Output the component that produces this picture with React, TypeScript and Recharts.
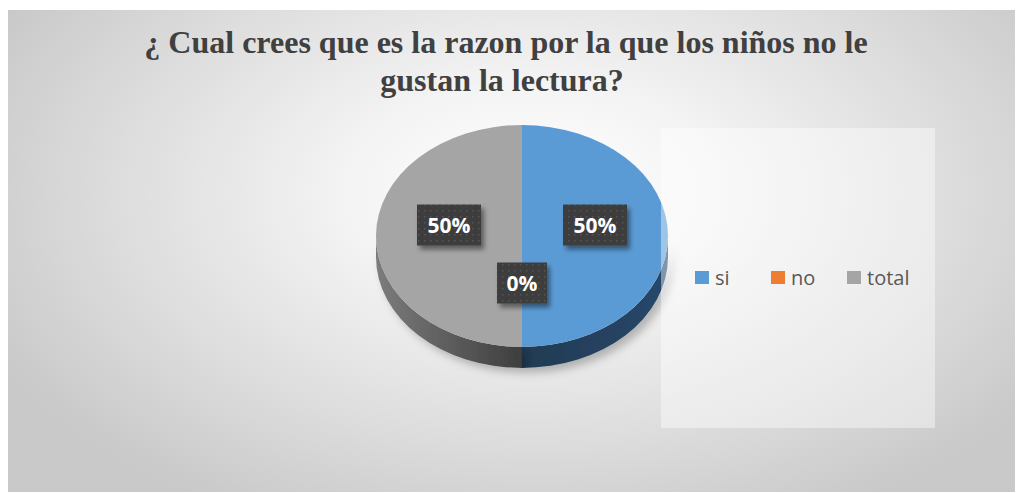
import React from 'react'
import { Legend, Pie, PieChart } from 'recharts'

const categories = ['si', 'no', 'total']
const values = [50, 0, 50]
const colors = ['#5B9BD5', '#ED7D31', '#A5A5A5']
const sideColors = ['url(#sideBlue)', '#8a4a1d', 'url(#sideGray)']
const title = ['¿ Cual crees que es la razon por la que los niños no le', 'gustan la lectura?']

const W = 1012
const H = 482
const RX = 146
const RY = 111
const DEPTH = 21

const rows = categories.map((name, i) => ({ name, value: values[i], fill: colors[i], side: sideColors[i] }))

const rad = (a: number) => (a * Math.PI) / 180

function pt(cx: number, cy: number, a: number, dy = 0) {
  return [cx + RX * Math.cos(rad(a)), cy - RY * Math.sin(rad(a)) + dy]
}

function Slice3D(props: any) {
  const { cx, cy, startAngle, endAngle, fill, payload } = props
  if (Math.abs(endAngle - startAngle) < 0.01) return <g />
  const lo = Math.min(startAngle, endAngle)
  const hi = Math.max(startAngle, endAngle)
  const [sx, sy] = pt(cx, cy, startAngle)
  const [ex, ey] = pt(cx, cy, endAngle)
  const large = hi - lo > 180 ? 1 : 0
  const sweep = startAngle > endAngle ? 1 : 0
  const top = `M${cx},${cy} L${sx},${sy} A${RX},${RY} 0 ${large} ${sweep} ${ex},${ey} Z`

  // side wall: only the front half (-180..0, modulo 360)
  const sides: string[] = []
  for (const k of [-360, 0, 360]) {
    const a1 = Math.max(lo, -180 + k)
    const a2 = Math.min(hi, 0 + k)
    if (a2 - a1 > 0.01) {
      const [x1, y1] = pt(cx, cy, a2)
      const [x2, y2] = pt(cx, cy, a1)
      const [x3, y3] = pt(cx, cy, a1, DEPTH)
      const [x4, y4] = pt(cx, cy, a2, DEPTH)
      const lg = a2 - a1 > 180 ? 1 : 0
      sides.push(
        `M${x1},${y1} A${RX},${RY} 0 ${lg} 1 ${x2},${y2} L${x3},${y3} A${RX},${RY} 0 ${lg} 0 ${x4},${y4} Z`
      )
    }
  }
  return (
    <g>
      <g filter="url(#pieShadow)">
        {sides.map((d, i) => (
          <path key={i} d={d} fill={payload.side} />
        ))}
      </g>
      <path d={top} fill={fill} />
    </g>
  )
}

function renderLabel(props: any) {
  const { cx, cy, midAngle, percent } = props
  const text = `${Math.round(percent * 100)}%`
  const x = cx + 73 * Math.cos(rad(midAngle))
  const y = cy - 58 * Math.sin(rad(midAngle)) - 11
  const w = 14 * text.length + 22
  const h = 41
  return (
    <g>
      <rect x={x - w / 2} y={y - h / 2} width={w} height={h} fill="url(#dots)" filter="url(#boxShadow)" />
      <text
        x={x}
        y={y + 7.5}
        textAnchor="middle"
        fill="#ffffff"
        fontFamily="Open Sans"
        fontWeight="bold"
        fontSize={21}
      >
        {text}
      </text>
    </g>
  )
}

function renderLegend(props: any) {
  const payload = [...(props.payload || [])].sort(
    (a: any, b: any) => categories.indexOf(a.value) - categories.indexOf(b.value)
  )
  return (
    <div style={{ display: 'flex', fontFamily: 'Open Sans', fontSize: 20, color: '#595959' }}>
      {payload.map((p: any) => (
        <div key={p.value} style={{ width: 76, display: 'flex', alignItems: 'center' }}>
          <span style={{ width: 14, height: 13, background: p.color, marginRight: 6, display: 'inline-block' }} />
          <span>{p.value}</span>
        </div>
      ))}
    </div>
  )
}

export default function App() {
  return (
    <div
      style={{
        position: 'relative',
        width: W,
        height: H,
        marginTop: 2,
        background: 'radial-gradient(ellipse 60% 75% at 52% 38%, #ffffff 0%, #f4f4f4 30%, #dcdcdc 70%, #c9c9c9 100%)',
        overflow: 'hidden',
      }}
    >
      <div
        style={{
          position: 'absolute',
          left: 0,
          top: 13,
          width: W - 24,
          textAlign: 'center',
          fontFamily: '"Liberation Serif", serif',
          fontWeight: 'bold',
          fontSize: 32,
          lineHeight: '38px',
          color: '#404040',
        }}
      >
        <div style={{ paddingLeft: 8 }}>{title[0]}</div>
        <div>{title[1]}</div>
      </div>
      <div style={{ position: 'absolute', left: 0, top: 0 }}>
        <PieChart width={W} height={H} margin={{ top: 0, right: 0, bottom: 0, left: 0 }}>
          <defs>
            <linearGradient id="sideGray" x1="0" y1="0" x2="1" y2="0">
              <stop offset="0%" stopColor="#7c7c7c" />
              <stop offset="100%" stopColor="#3e3e3e" />
            </linearGradient>
            <linearGradient id="sideBlue" x1="0" y1="0" x2="1" y2="0">
              <stop offset="0%" stopColor="#223b53" />
              <stop offset="100%" stopColor="#28476a" />
            </linearGradient>
            <pattern id="dots" width="6" height="6" patternUnits="userSpaceOnUse">
              <rect width="6" height="6" fill="#3c3c3c" />
              <rect x="2" y="2" width="1.5" height="1.5" fill="#575757" />
            </pattern>
            <filter id="boxShadow" x="-20%" y="-20%" width="150%" height="160%">
              <feDropShadow dx="3" dy="4" stdDeviation="2.5" floodColor="#000" floodOpacity="0.45" />
            </filter>
            <filter id="pieShadow" x="-20%" y="-50%" width="140%" height="250%">
              <feDropShadow dx="5" dy="5" stdDeviation="4" floodColor="#000" floodOpacity="0.25" />
            </filter>
          </defs>
          <Pie
            data={rows}
            dataKey="value"
            nameKey="name"
            cx={514}
            cy={226}
            outerRadius={RX}
            startAngle={90}
            endAngle={-270}
            stroke="none"
            shape={Slice3D}
            label={renderLabel}
            labelLine={false}
            isAnimationActive={false}
          />
          <Legend
            content={renderLegend}
            wrapperStyle={{ position: 'absolute', left: 687, top: 254, width: 260, zIndex: 2 }}
          />
        </PieChart>
      </div>
      <div
        style={{
          position: 'absolute',
          left: 653,
          top: 118,
          width: 274,
          height: 300,
          background: 'rgba(255,255,255,0.42)',
          pointerEvents: 'none',
          zIndex: 1,
        }}
      />
    </div>
  )
}
